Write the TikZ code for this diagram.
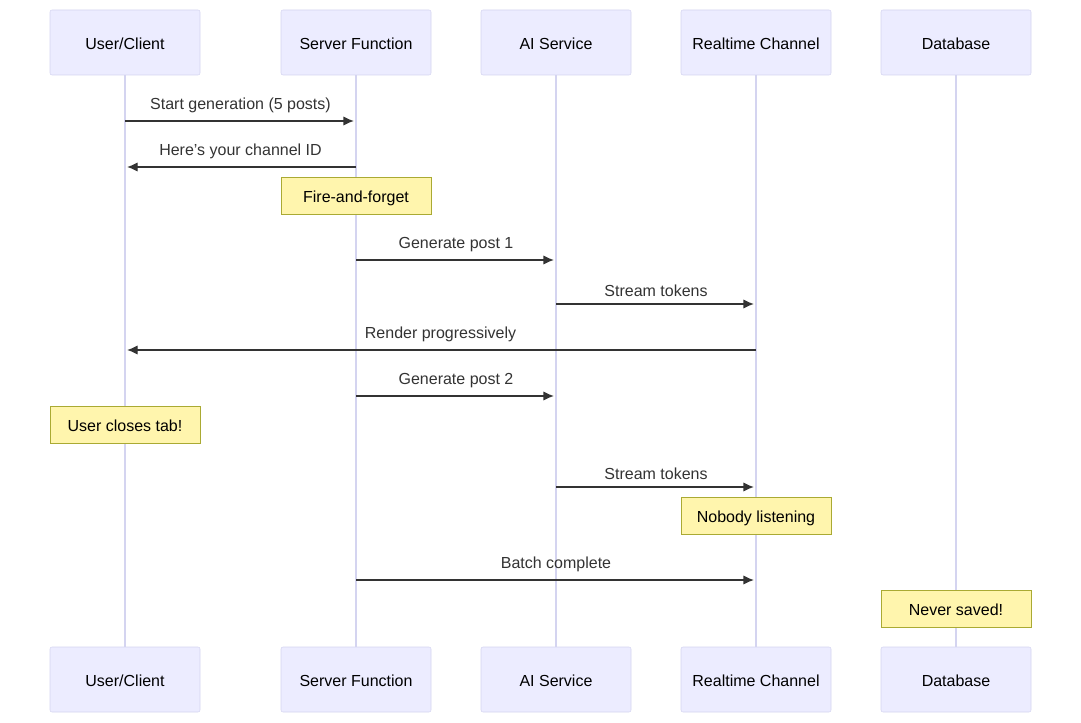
\documentclass[tikz,border=0pt]{standalone}
\usepackage{fontspec}
\setmainfont{Liberation Sans}
\usetikzlibrary{positioning,arrows.meta}
\definecolor{actorfill}{HTML}{ECECFF}
\definecolor{actorline}{HTML}{D4D4F0}
\definecolor{notefill}{HTML}{FFF5AD}
\definecolor{noteline}{HTML}{AAAA33}
\definecolor{msgline}{HTML}{333333}
\begin{document}
\begin{tikzpicture}[x=0.75pt,y=-0.75pt,
    actor/.style={draw=actorline,fill=actorfill,minimum width=112.5pt,minimum height=48.75pt,rounded corners=1.5pt,text height=11pt,text depth=0.5pt,font=\fontsize{12}{14}\selectfont},
    note/.style={draw=noteline,fill=notefill,minimum width=112.5pt,minimum height=27.75pt,text height=11pt,text depth=0.5pt,font=\fontsize{12}{14}\selectfont},
    life/.style={draw=actorline,line width=1.2pt},
    msg/.style={draw=msgline,line width=1pt,shorten >=1.5pt,-{Latex[length=8pt,width=7pt]}},
    lbl/.style={font=\fontsize{12}{14}\selectfont,text=msgline,above=2pt}]
  \useasboundingbox (0,0) rectangle (1081,723);
  % participants
  \foreach \name/\x/\txt in {user/125/{User/Client},srv/356/Server Function,ai/556/AI Service,rt/756/Realtime Channel,db/956/Database}{
    \node[actor] (\name top) at (\x,42.5) {\txt};
    \node[actor] (\name bot) at (\x,679.5) {\txt};
    \draw[life] (\name top) -- (\name bot);
  }
  % message anchors
  \foreach \name/\x in {user/125,srv/356,ai/556,rt/756}{
    \foreach \y in {121,167,260,304,350,396,487,580}{
      \coordinate (\name\y) at (\x,\y);
    }
  }
  \draw[msg] (user121) -- node[lbl] {Start generation (5 posts)} (srv121);
  \draw[msg] (srv167) -- node[lbl] {Here's your channel ID} (user167);
  \node[note] (fire) at (356,195.5) {Fire-and-forget};
  \draw[msg] (srv260) -- node[lbl] {Generate post 1} (ai260);
  \draw[msg] (ai304) -- node[lbl] {Stream tokens} (rt304);
  \draw[msg] (rt350) -- node[lbl] {Render progressively} (user350);
  \draw[msg] (srv396) -- node[lbl] {Generate post 2} (ai396);
  \node[note] (closes) at (125,424.5) {User closes tab!};
  \draw[msg] (ai487) -- node[lbl] {Stream tokens} (rt487);
  \node[note] (nobody) at (756,515.5) {Nobody listening};
  \draw[msg] (srv580) -- node[lbl] {Batch complete} (rt580);
  \node[note] (never) at (956,608.5) {Never saved!};
\end{tikzpicture}
\end{document}
